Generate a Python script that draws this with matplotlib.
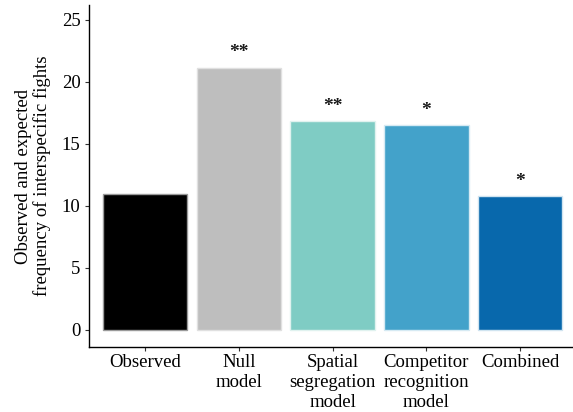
import matplotlib
matplotlib.use("Agg")
from matplotlib import pyplot as plt

# data
categories = ["Observed", "Null\nmodel", "Spatial\nsegregation\nmodel",
              "Competitor\nrecognition\nmodel", "Combined"]
values = [11.0, 21.15, 16.85, 16.55, 10.8]
stars = ["", "**", "**", "*", "*"]
colors = ["#000000", "#bebebe", "#7fccc4", "#43a2ca", "#0868ac"]
edges = ["#9a9a9a", "#e0e0e0", "#e0f2ef", "#d6eaf3", "#d0e4f0"]

plt.rcParams['font.family'] = ['Liberation Serif', 'DejaVu Serif']

fig = plt.figure(figsize=(5.73, 4.12), dpi=100)
ax = fig.add_axes([0.1553, 0.1578, 0.8447, 0.83])

x = list(range(1, len(values) + 1))
ax.bar(x, values, width=0.9, color=colors, edgecolor=edges, linewidth=1.0)

for xi, v, s in zip(x, values, stars):
    if s:
        ax.text(xi, v + 0.5, s, ha='center', va='bottom', fontsize=14,
                fontweight='bold', color='#1a1a1a')

ax.set_xlim(0.4, 5.565)
ax.set_ylim(-1.37, 26.2)
ax.set_yticks([0, 5, 10, 15, 20, 25])
ax.set_xticks(x)
ax.set_xticklabels(categories, fontsize=13.5, va='top', linespacing=1.22)
ax.tick_params(axis='y', labelsize=13.5, length=3, width=0.8, color='#333333', pad=3)
ax.tick_params(axis='x', length=3, width=0.8, color='#333333', pad=2)

for side in ['top', 'right']:
    ax.spines[side].set_visible(False)
for side in ['left', 'bottom']:
    ax.spines[side].set_linewidth(1.0)
    ax.spines[side].set_color('black')

ax.set_ylabel("Observed and expected\nfrequency of interspecific fights",
              fontsize=13.5, linespacing=1.1, labelpad=8)

plt.savefig('out.png', dpi=100)
